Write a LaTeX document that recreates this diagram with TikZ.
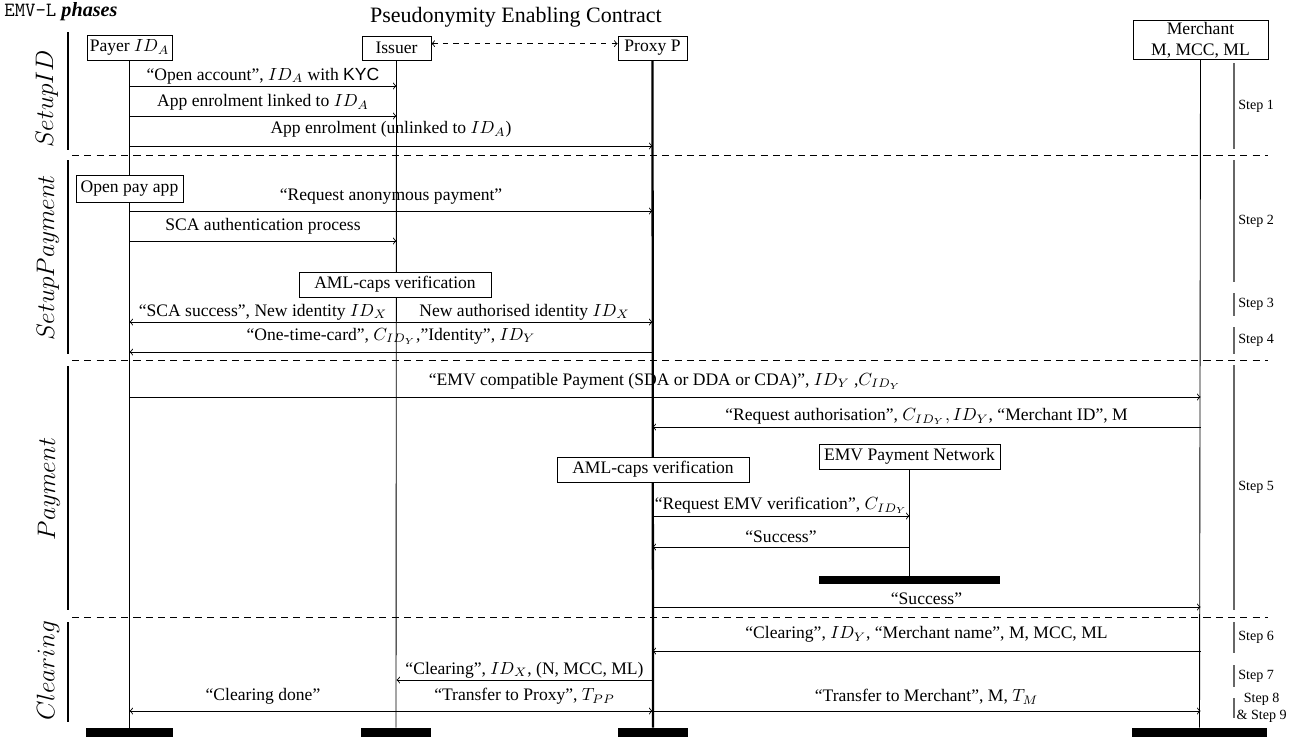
\documentclass[tikz,border=0pt]{standalone}
\usepackage{fontspec}
\setmainfont{Liberation Serif}
\newfontfamily\kycfont{Liberation Sans}

\begin{document}
\begin{tikzpicture}[x=0.02cm,y=-0.02cm,
    actor/.style={draw,fill=white,inner sep=1pt,line width=0.5pt},
    lifeline/.style={line width=0.5pt},
    msg/.style={->,line width=0.5pt},
    lbl/.style={above,inner sep=1pt},
    phasesep/.style={dash pattern=on 4pt off 3pt,line width=0.5pt},
    phasebar/.style={line width=0.6pt},
    phaselbl/.style={rotate=90,font=\fontsize{14}{16}\selectfont},
    stepbar/.style={draw=black!60,line width=1pt},
    steplbl/.style={right,inner sep=2pt,font=\footnotesize,align=center},
    endbar/.style={fill=black,inner sep=0pt,minimum height=0.18cm}]
\useasboundingbox (0,0) rectangle (1304,738);

% header
\node[anchor=west,inner sep=0pt] (hdr) at (4,12) {\fontsize{11.5}{13}\selectfont\texttt{EMV-L} \textbf{\textit{phases}}};
\node (title) at (516,17) {\fontsize{12.5}{14}\selectfont Pseudonymity Enabling Contract};

% participants
\node[actor,minimum width=1.7cm,minimum height=0.5cm] (payer) at (129.5,47.5) {Payer $ID_A$};
\node[actor,minimum width=1.38cm,minimum height=0.48cm] (issuer) at (396.5,48) {Issuer};
\node[actor,minimum width=1.38cm,minimum height=0.48cm] (proxy) at (652.5,48) {Proxy P};
\node[actor,minimum width=2.7cm,minimum height=0.76cm,align=center] (merchant) at (1200.5,40) {Merchant\\M, MCC, ML};
\draw[<->,dashed,line width=0.5pt] ([yshift=2.5pt]issuer.east) -- ([yshift=2.5pt]proxy.west);

% end of lifelines
\node[endbar,minimum width=1.74cm] (payerend) at (129.5,732.5) {};
\node[endbar,minimum width=1.4cm] (issuerend) at (396,732.5) {};
\node[endbar,minimum width=1.4cm] (proxyend) at (653,732.5) {};
\node[endbar,minimum width=2.7cm] (merchantend) at (1199.5,732.5) {};

\draw[lifeline] (payer.south) -- (payerend.north);
\draw[lifeline] (issuer.south) -- (issuerend.north);
\draw[lifeline,line width=1.3pt] (proxy.south) -- (proxyend.north);
\draw[lifeline] (merchant.south) -- (merchantend.north);

% phases
\draw[phasesep] (72,155) -- (1268,155);
\draw[phasesep] (72,360) -- (1268,360);
\draw[phasesep] (72,617) -- (1268,617);
\draw[phasebar] (68,32) -- (68,150);
\draw[phasebar] (68,160) -- (68,354);
\draw[phasebar] (68,366) -- (68,610);
\draw[phasebar] (68,622) -- (68,722);
\node[phaselbl] (ph1) at (47,99) {$SetupID$};
\node[phaselbl] (ph2) at (48,258) {$SetupPayment$};
\node[phaselbl] (ph3) at (49,489) {$Payment$};
\node[phaselbl] (ph4) at (48,671) {$Clearing$};

% SetupID
\draw[msg] (payer |- 0,86) -- (issuer |- 0,86) node[lbl,midway] (m1) {``Open account'', $ID_A$ with {\kycfont KYC}};
\draw[msg] (payer |- 0,116) -- (issuer |- 0,116) node[lbl,midway,yshift=2pt] (m2) {App enrolment linked to $ID_A$};
\draw[msg] (payer |- 0,146) -- (proxy |- 0,146) node[lbl,midway,yshift=3.5pt] (m3) {App enrolment (unlinked to $ID_A$)};

% SetupPayment
\node[actor,minimum width=2.14cm,minimum height=0.54cm] (openapp) at (129.5,188.5) {Open pay app};
\draw[msg] (payer |- 0,211) -- (proxy |- 0,211) node[lbl,midway,yshift=2.5pt] (m4) {``Request anonymous payment''};
\draw[msg] (payer |- 0,241) -- (issuer |- 0,241) node[lbl,midway,yshift=2.5pt] (m5) {SCA authentication process};
\node[actor,minimum width=3.84cm,minimum height=0.5cm] (aml1) at (395,284.5) {AML-caps verification};
\draw[msg] (issuer |- 0,322) -- (payer |- 0,322) node[lbl,midway] (m6) {``SCA success'', New identity $ID_X$};
\draw[msg] (issuer |- 0,322) -- (proxy |- 0,322) node[lbl,midway] (m7) {New authorised identity $ID_X$};
\draw[msg] (proxy |- 0,352) -- (payer |- 0,352) node[lbl,midway,yshift=3pt] (m8) {``One-time-card'', $C_{ID_Y}$,''Identity'', $ID_Y$};

% Payment
\draw[msg] (payer |- 0,397) -- (merchant |- 0,397) node[lbl,midway,yshift=3pt] (m9) {``EMV compatible Payment (SDA or DDA or CDA)'', $ID_Y$ ,$C_{ID_Y}$};
\draw[msg] (merchant |- 0,427) -- (proxy |- 0,427) node[lbl,midway] (m10) {``Request authorisation'', $C_{ID_Y}, ID_Y$, ``Merchant ID'', M};
\node[actor,minimum width=3.84cm,minimum height=0.5cm] (aml2) at (653,469.5) {AML-caps verification};
\node[actor,minimum width=3.62cm,minimum height=0.5cm] (emvnet) at (909.5,456.5) {EMV Payment Network};
\node[endbar,minimum width=3.62cm,minimum height=0.16cm] (emvend) at (909.5,580) {};
\draw[lifeline] (emvnet.south) -- (emvend.north);
\draw[msg] (proxy |- 0,516) -- (emvnet |- 0,516) node[lbl,midway] (m11) {``Request EMV verification'', $C_{ID_Y}$};
\draw[msg] (emvnet |- 0,547) -- (proxy |- 0,547) node[lbl,midway,yshift=1pt] (m12) {``Success''};
\draw[msg] (proxy |- 0,607) -- (merchant |- 0,607) node[lbl,midway] (m13) {``Success''};

% Clearing
\draw[msg] (merchant |- 0,651) -- (proxy |- 0,651) node[lbl,midway,yshift=3.5pt] (m14) {``Clearing'', $ID_Y$, ``Merchant name'', M, MCC, ML};
\draw[msg] (proxy |- 0,680) -- (issuer |- 0,680) node[lbl,midway] (m15) {``Clearing'', $ID_X$, (N, MCC, ML)};
\draw[msg] (issuer |- 0,711) -- (payer |- 0,711) node[lbl,midway,yshift=2.5pt] (m16) {``Clearing done''};
\draw[msg] (issuer |- 0,711) -- (proxy |- 0,711) node[lbl,midway,yshift=2.5pt] (m17) {``Transfer to Proxy'', $T_{PP}$};
\draw[msg] (proxy |- 0,711) -- (merchant |- 0,711) node[lbl,midway,yshift=2.5pt] (m18) {``Transfer to Merchant'', M, $T_M$};

% steps
\draw[stepbar] (1234,63) -- (1234,149) node[steplbl,midway] (s1) {Step 1};
\draw[stepbar] (1234,160) -- (1234,282) node[steplbl,midway] (s2) {Step 2};
\draw[stepbar] (1234,293) -- (1234,316) node[steplbl,midway] (s3) {Step 3};
\draw[stepbar] (1234,327) -- (1234,354) node[steplbl,midway] (s4) {Step 4};
\draw[stepbar] (1234,365) -- (1234,610) node[steplbl,midway] (s5) {Step 5};
\draw[stepbar] (1234,622) -- (1234,653) node[steplbl,midway] (s6) {Step 6};
\draw[stepbar] (1234,665) -- (1234,687) node[steplbl,midway] (s7) {Step 7};
\draw[stepbar] (1234,698) -- (1234,718) node[steplbl,midway,inner sep=1pt] (s8) {Step 8\\\& Step 9};
\end{tikzpicture}
\end{document}
